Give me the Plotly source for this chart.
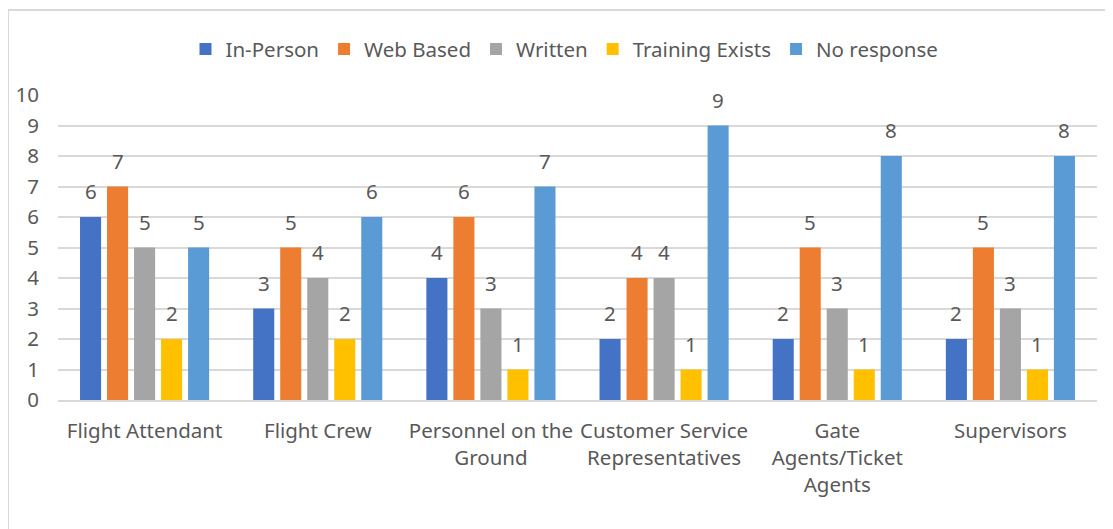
import plotly.graph_objects as go

# categories (line breaks as in the source chart)
categories = [
    "Flight Attendant",
    "Flight Crew",
    "Personnel on the<br>Ground",
    "Customer Service<br>Representatives",
    "Gate<br>Agents/Ticket<br>Agents",
    "Supervisors",
]

in_person = [6, 3, 4, 2, 2, 2]
web_based = [7, 5, 6, 4, 5, 5]
written = [5, 4, 3, 4, 3, 3]
training_exists = [2, 2, 1, 1, 1, 1]
no_response = [5, 6, 7, 9, 8, 8]

series = [
    ("In-Person", in_person, "#4472C4"),
    ("Web Based", web_based, "#ED7D31"),
    ("Written", written, "#A5A5A5"),
    ("Training Exists", training_exists, "#FFC000"),
    ("No response", no_response, "#5B9BD5"),
]

FONT = "Noto Sans"
GREY = "#595959"
FS = 20.5

W, H = 1113, 529
ML, MR, MT, MB = 50, 24, 87, 137
BARGAP = 0.22

fig = go.Figure()
for name, vals, color in series:
    fig.add_trace(go.Bar(
        x=categories, y=vals, name=name,
        marker=dict(color=color, line=dict(width=0)),
    ))

# data labels: placed a bit higher above the bars than plotly's default "outside"
slot = (W - ML - MR) / len(categories) * (1 - BARGAP) / len(series)
for i, (name, vals, color) in enumerate(series):
    for cat, v in zip(categories, vals):
        fig.add_annotation(x=cat, y=v, text=str(v), showarrow=False,
                           xshift=(i - 2) * slot, yshift=26, yanchor="middle",
                           font=dict(size=FS, color=GREY, family=FONT))

fig.update_layout(
    width=W, height=H,
    margin=dict(l=ML, r=MR, t=MT, b=MB),
    paper_bgcolor="white", plot_bgcolor="white",
    barmode="group", bargap=BARGAP, bargroupgap=0.22,
    font=dict(family=FONT, size=FS, color=GREY),
    legend=dict(orientation="h", x=0.5, xanchor="center", xref="container",
                y=0.922, yanchor="middle", yref="container",
                font=dict(size=FS, color=GREY), traceorder="normal", itemwidth=30),
    showlegend=True,
)
fig.update_yaxes(range=[0, 10], dtick=1, showgrid=True, gridcolor="#D9D9D9", gridwidth=1.5,
                 zeroline=False, showline=False, ticks="", tickfont=dict(size=FS, color=GREY),
                 ticklabelstandoff=18, automargin=False)
fig.update_xaxes(showline=True, linecolor="#D9D9D9", linewidth=1.5, ticks="",
                 tickfont=dict(size=FS, color=GREY), tickangle=0, automargin=False,
                 ticklabelstandoff=12)

# chart border (left and top edges as seen in the source)
fig.add_shape(type="line", xref="paper", yref="paper",
              x0=-0.0481, x1=1.1, y0=1.279, y1=1.279, line=dict(color="#D9D9D9", width=2))
fig.add_shape(type="line", xref="paper", yref="paper",
              x0=-0.0481, x1=-0.0481, y0=1.279, y1=-0.5, line=dict(color="#D9D9D9", width=2))

fig.write_html("out.html")
